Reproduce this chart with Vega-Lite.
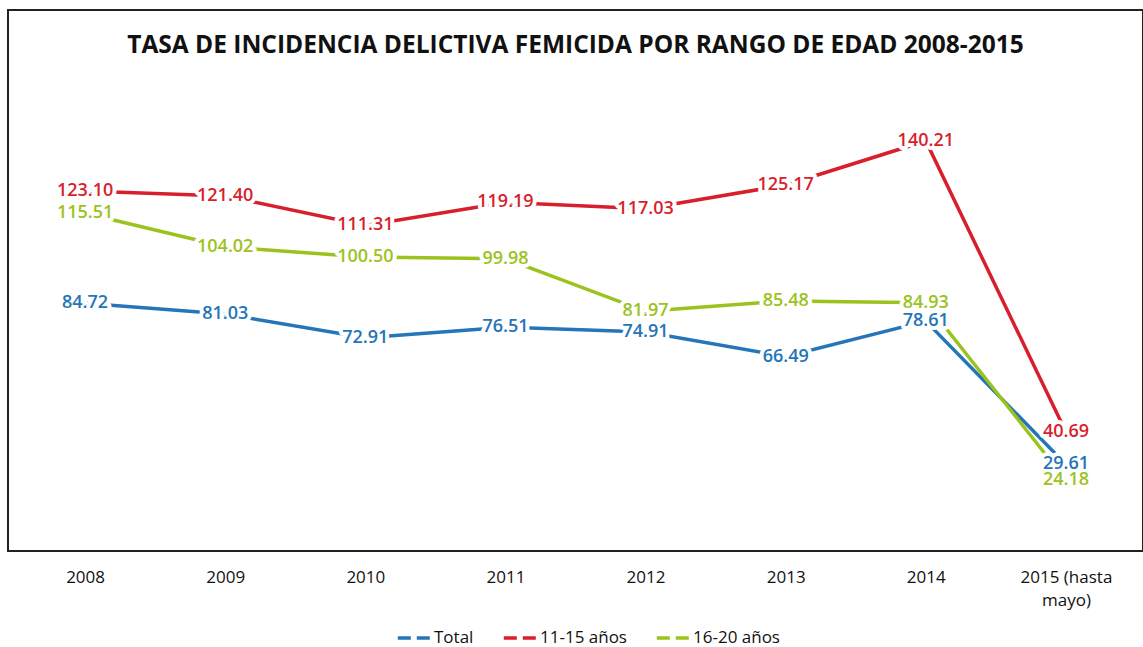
{
  "$schema": "https://vega.github.io/schema/vega-lite/v6.json",
  "width": 1135,
  "height": 541,
  "autosize": {"type": "none"},
  "padding": {"left": 8, "top": 10, "right": 0, "bottom": 96},
  "background": "white",
  "title": {
    "text": "TASA DE INCIDENCIA DELICTIVA FEMICIDA POR RANGO DE EDAD 2008-2015",
    "offset": -48,
    "fontSize": 24.5,
    "font": "Open Sans",
    "fontWeight": "bold",
    "color": "#111111",
    "anchor": "middle"
  },
  "config": {"view": {"stroke": "#222222", "strokeWidth": 2}, "font": "Open Sans"},
  "data": {
    "values": [
      {"anio": "2008", "serie": "Total", "tasa": 84.72},
      {"anio": "2009", "serie": "Total", "tasa": 81.03},
      {"anio": "2010", "serie": "Total", "tasa": 72.91},
      {"anio": "2011", "serie": "Total", "tasa": 76.51},
      {"anio": "2012", "serie": "Total", "tasa": 74.91},
      {"anio": "2013", "serie": "Total", "tasa": 66.49},
      {"anio": "2014", "serie": "Total", "tasa": 78.61},
      {"anio": "2015 (hasta mayo)", "serie": "Total", "tasa": 29.61},
      {"anio": "2008", "serie": "11-15 años", "tasa": 123.10},
      {"anio": "2009", "serie": "11-15 años", "tasa": 121.40},
      {"anio": "2010", "serie": "11-15 años", "tasa": 111.31},
      {"anio": "2011", "serie": "11-15 años", "tasa": 119.19},
      {"anio": "2012", "serie": "11-15 años", "tasa": 117.03},
      {"anio": "2013", "serie": "11-15 años", "tasa": 125.17},
      {"anio": "2014", "serie": "11-15 años", "tasa": 140.21},
      {"anio": "2015 (hasta mayo)", "serie": "11-15 años", "tasa": 40.69},
      {"anio": "2008", "serie": "16-20 años", "tasa": 115.51},
      {"anio": "2009", "serie": "16-20 años", "tasa": 104.02},
      {"anio": "2010", "serie": "16-20 años", "tasa": 100.50},
      {"anio": "2011", "serie": "16-20 años", "tasa": 99.98},
      {"anio": "2012", "serie": "16-20 años", "tasa": 81.97},
      {"anio": "2013", "serie": "16-20 años", "tasa": 85.48},
      {"anio": "2014", "serie": "16-20 años", "tasa": 84.93},
      {"anio": "2015 (hasta mayo)", "serie": "16-20 años", "tasa": 24.18}
    ]
  },
  "encoding": {
    "x": {
      "field": "anio",
      "type": "ordinal",
      "sort": null,
      "scale": {"type": "point", "padding": 0.55},
      "axis": {
        "title": null,
        "domain": false,
        "ticks": false,
        "grid": false,
        "labelAngle": 0,
        "labelFontSize": 17,
        "labelPadding": 18,
        "labelColor": "#111111",
        "labelBaseline": "top",
        "labelLineHeight": 23,
        "labelExpr": "datum.value == '2015 (hasta mayo)' ? ['2015 (hasta', 'mayo)'] : datum.value"
      }
    },
    "y": {
      "field": "tasa",
      "type": "quantitative",
      "scale": {"domain": [0, 185]},
      "axis": null
    }
  },
  "layer": [
    {
      "mark": {"type": "line", "strokeWidth": 3.5},
      "encoding": {
        "color": {
          "field": "serie",
          "type": "nominal",
          "sort": null,
          "scale": {
            "domain": ["Total", "11-15 años", "16-20 años"],
            "range": ["#2575b8", "#d81f2d", "#9cc31d"]
          },
          "legend": {
            "orient": "none",
            "legendX": 388,
            "legendY": 610,
            "direction": "horizontal",
            "title": null,
            "symbolType": "stroke",
            "symbolSize": 1050,
            "symbolStrokeWidth": 3.5,
            "symbolDash": [13, 6],
            "labelFontSize": 17,
            "labelColor": "#111111",
            "columnPadding": 22,
            "labelOffset": 2
          }
        }
      }
    },
    {
      "mark": {"type": "text", "fontSize": 18, "fontWeight": 600, "stroke": "white", "strokeWidth": 8, "strokeJoin": "round"},
      "encoding": {
        "text": {"field": "tasa", "type": "quantitative", "format": ".2f"},
        "color": {"value": "white"}
      }
    },
    {
      "mark": {"type": "text", "fontSize": 18, "fontWeight": 600},
      "encoding": {
        "text": {"field": "tasa", "type": "quantitative", "format": ".2f"},
        "color": {"field": "serie", "type": "nominal", "sort": null}
      }
    }
  ]
}
